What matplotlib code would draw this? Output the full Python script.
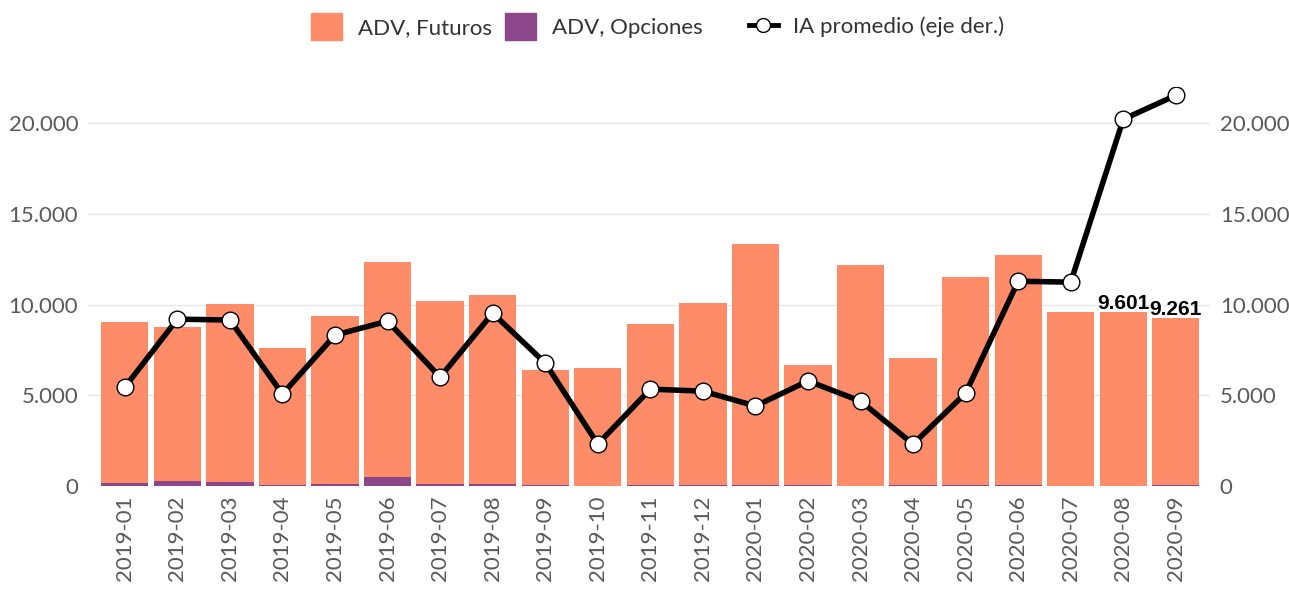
import matplotlib.pyplot as plt
from matplotlib.ticker import FuncFormatter
from matplotlib.patches import Patch
from matplotlib.lines import Line2D

months = ['2019-01', '2019-02', '2019-03', '2019-04', '2019-05', '2019-06',
          '2019-07', '2019-08', '2019-09', '2019-10', '2019-11', '2019-12',
          '2020-01', '2020-02', '2020-03', '2020-04', '2020-05', '2020-06',
          '2020-07', '2020-08', '2020-09']
adv_total = [9030, 8760, 10030, 7600, 9370, 12340, 10190, 10520, 6390, 6500, 8930,
             10080, 13330, 6670, 12180, 7050, 11520, 12730, 9580, 9601, 9261]
adv_opciones = [180, 275, 240, 75, 130, 480, 110, 110, 40, 10, 30,
                80, 70, 40, 20, 40, 30, 80, 10, 10, 30]
adv_futuros = [t - o for t, o in zip(adv_total, adv_opciones)]
ia_promedio = [5450, 9200, 9150, 5070, 8320, 9090, 6000, 9530, 6780, 2310, 5340,
               5230, 4410, 5790, 4680, 2310, 5120, 11290, 11240, 20220, 21540]
labeled = {19: '9.601', 20: '9.261'}

orange = '#FF8C69'
purple = '#8B4789'
grey = '#595959'

plt.rcParams['font.family'] = ['Lato', 'DejaVu Sans']

fig = plt.figure(figsize=(12.89, 5.95), dpi=100)
ax = fig.add_axes([0.0683, 0.1832, 0.8704, 0.6706])
x = range(len(months))

ax.bar(x, adv_opciones, width=0.9, color=purple, zorder=2)
ax.bar(x, adv_futuros, width=0.9, bottom=adv_opciones, color=orange, zorder=2)
for i, txt in labeled.items():
    ax.text(i, adv_total[i] - 60, txt, ha='center', va='bottom', fontsize=15,
            fontweight='bold', family='Liberation Sans', color='black', zorder=3)

fmt = FuncFormatter(lambda v, p: f'{int(v):,}'.replace(',', '.'))
ylim = (0, 22000)
ticks = [0, 5000, 10000, 15000, 20000]

ax.set_xlim(-0.7, 20.65)
ax.set_ylim(*ylim)
ax.set_yticks(ticks)
ax.yaxis.set_major_formatter(fmt)
ax.grid(axis='y', color='#e6e6e6', linewidth=1, zorder=0)
ax.set_xticks(list(x))
ax.set_xticklabels(months, rotation=90)

ax2 = ax.twinx()
ax2.plot(x, ia_promedio, color='black', linewidth=4, marker='o', markersize=12,
         markerfacecolor='white', markeredgecolor='black', markeredgewidth=1, zorder=4)
ax2.set_ylim(*ylim)
ax2.set_yticks(ticks)
ax2.yaxis.set_major_formatter(fmt)

for a in (ax, ax2):
    for s in a.spines.values():
        s.set_visible(False)
    a.tick_params(length=0, labelsize=16, labelcolor=grey, pad=7)

leg_kw = dict(loc='center', ncol=2, frameon=False, fontsize=16,
              handletextpad=0.7, labelcolor='#333333')
bar_leg = fig.legend([Patch(color=orange), Patch(color=purple)],
                     ['ADV, Futuros', 'ADV, Opciones'],
                     bbox_to_anchor=(0.393, 0.955), handlelength=1.4,
                     handleheight=1.5, columnspacing=0.6, **leg_kw)
fig.legend([Line2D([], [], color='black', linewidth=3.5, marker='o', markersize=10,
                   markerfacecolor='white', markeredgecolor='black')],
           ['IA promedio (eje der.)'], bbox_to_anchor=(0.68, 0.955),
           handlelength=1.3, **leg_kw)

fig.savefig('out.png', dpi=100)
